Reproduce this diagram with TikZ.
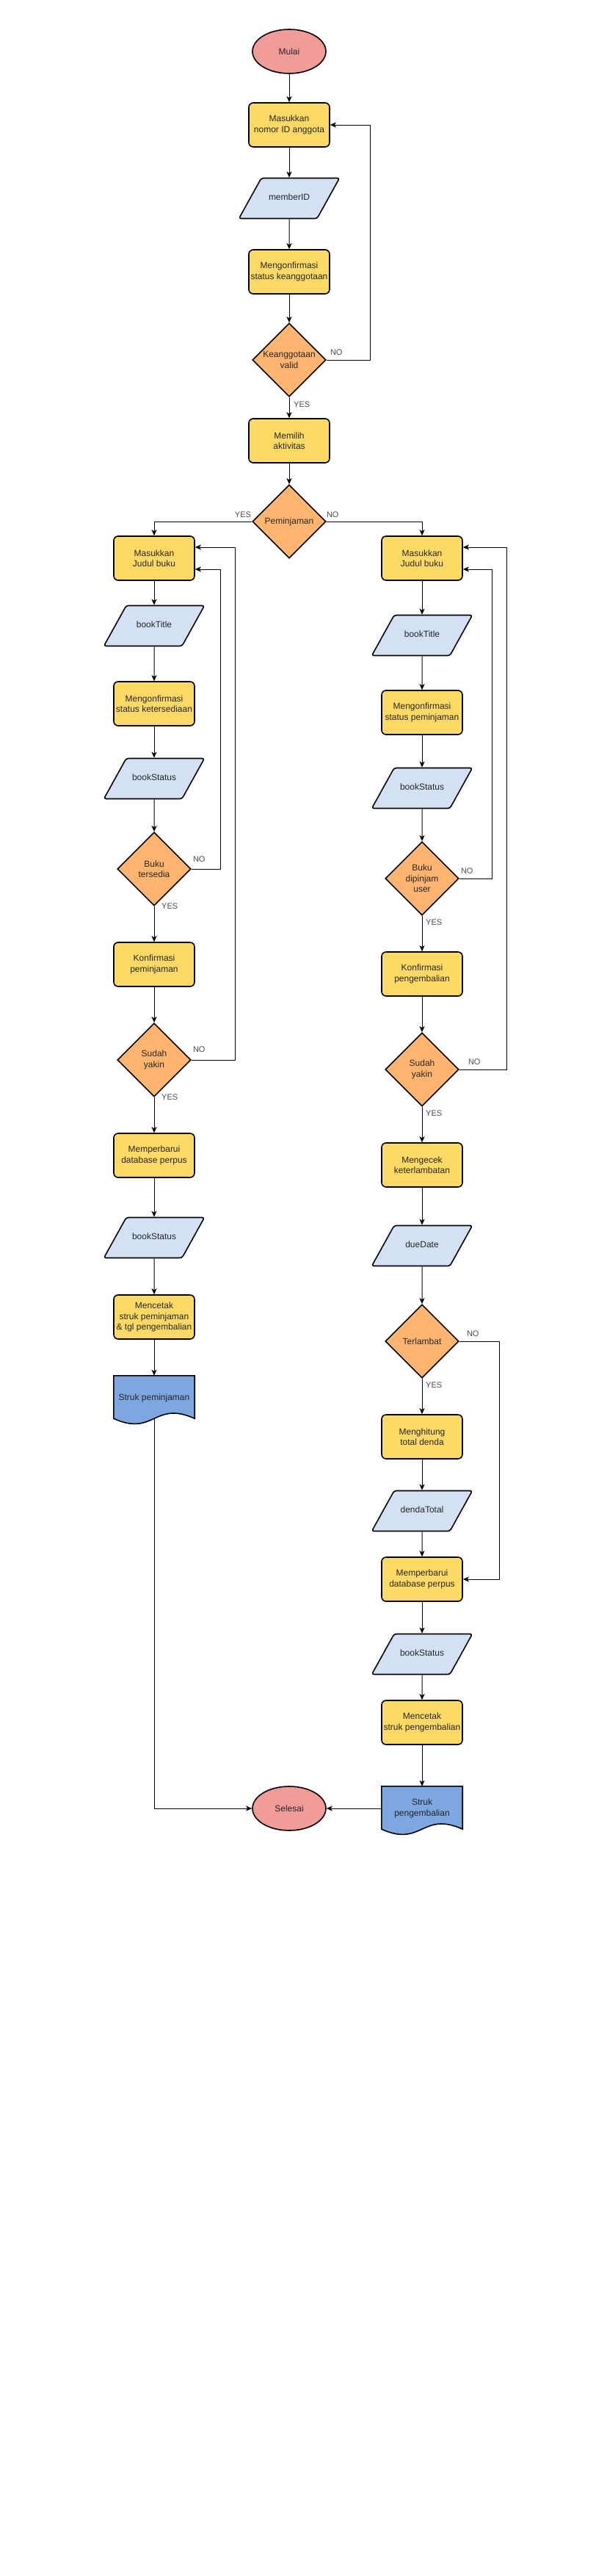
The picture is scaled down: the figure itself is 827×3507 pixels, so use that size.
\documentclass[tikz,border=0pt]{standalone}
\usepackage{fontspec}
\setmainfont{Liberation Sans}
\usetikzlibrary{arrows.meta, positioning, shapes.geometric}

\definecolor{termred}{HTML}{F19C99}
\definecolor{procyellow}{HTML}{FFD966}
\definecolor{decorange}{HTML}{FFB570}
\definecolor{ioblue}{HTML}{D4E1F5}
\definecolor{docblue}{HTML}{7EA6E0}

\pgfdeclarelayer{back}
\pgfsetlayers{back,main}

\begin{document}
\begin{tikzpicture}[x=1pt, y=1pt,
    every node/.style={font=\fontsize{12}{14.4}\selectfont, text=black!85, align=center},
    term/.style={ellipse, draw, line width=1.6pt, fill=termred, minimum width=100pt, minimum height=60pt, inner sep=0pt, on grid},
    proc/.style={rectangle, rounded corners=6pt, draw, line width=1.6pt, fill=procyellow, minimum width=110pt, minimum height=60pt, inner sep=0pt, on grid},
    io/.style={trapezium, trapezium left angle=61, trapezium right angle=119, text width=60pt, text height=8pt, text depth=3pt, inner xsep=8pt, inner ysep=22pt, rounded corners=3pt, draw, line width=1.6pt, fill=ioblue, on grid},
    dec/.style={diamond, aspect=1, draw, line width=1.6pt, fill=decorange, minimum width=100pt, minimum height=100pt, inner sep=0pt, on grid},
    doc/.style={rectangle, minimum width=110pt, minimum height=60pt, inner sep=0pt, on grid},
    docline/.style={draw, line width=1.6pt, fill=docblue},
    lbl/.style={font=\fontsize{11}{13}\selectfont, text=black!70, inner sep=0pt},
    flow/.style={draw, line width=1pt, -{Stealth[length=8pt, width=7pt, inset=2pt]}}]
                \useasboundingbox (0,0) rectangle (827,-3507);
                \node[term] (mulai) at (394,-70) {Mulai};
                \node[proc, below=100pt of mulai] (inputId) {Masukkan\\nomor ID anggota};
                \node[io, below=100pt of inputId] (memberId) {memberID};
                \node[proc, below=100pt of memberId] (cekAnggota) {Mengonfirmasi\\status keanggotaan};
                \node[dec, below=120pt of cekAnggota] (valid) {Keanggotaan\\valid};
                \node[proc, below=110pt of valid] (aktivitas) {Memilih\\aktivitas};
                \node[dec, below=110pt of aktivitas] (pinjam) {Peminjaman};

                \node[proc, below left=50pt and 184pt of pinjam] (judulL) {Masukkan\\Judul buku};
                \node[io, below=92pt of judulL] (titleL) {bookTitle};
                \node[proc, below=106pt of titleL] (sediaL) {Mengonfirmasi\\status ketersediaan};
                \node[io, below=102pt of sediaL] (statusL) {bookStatus};
                \node[dec, below=123pt of statusL] (tersedia) {Buku\\tersedia};
                \node[proc, below=130pt of tersedia] (konfL) {Konfirmasi\\peminjaman};
                \node[dec, below=130pt of konfL] (yakinL) {Sudah\\yakin};
                \node[proc, below=130pt of yakinL] (updateL) {Memperbarui\\database perpus};
                \node[io, below=112pt of updateL] (status2L) {bookStatus};
                \node[proc, below=108pt of status2L] (cetakL) {Mencetak\\struk peminjaman\\\& tgl pengembalian};
                \node[doc, below=110pt of cetakL] (strukL) {Struk peminjaman};

                \node[proc, below right=50pt and 181pt of pinjam] (judulR) {Masukkan\\Judul buku};
                \node[io, below=105pt of judulR] (titleR) {bookTitle};
                \node[proc, below=105pt of titleR] (cekPinjam) {Mengonfirmasi\\status peminjaman};
                \node[io, below=103pt of cekPinjam] (statusR) {bookStatus};
                \node[dec, below=123pt of statusR] (dipinjam) {Buku\\dipinjam\\user};
                \node[proc, below=130pt of dipinjam] (konfR) {Konfirmasi\\pengembalian};
                \node[dec, below=130pt of konfR] (yakinR) {Sudah\\yakin};
                \node[proc, below=130pt of yakinR] (cekTelat) {Mengecek\\keterlambatan};
                \node[io, below=110pt of cekTelat] (dueDate) {dueDate};
                \node[dec, below=130pt of dueDate] (terlambat) {Terlambat};
                \node[proc, below=130pt of terlambat] (denda) {Menghitung\\total denda};
                \node[io, below=101pt of denda] (dendaTotal) {dendaTotal};
                \node[proc, below=93pt of dendaTotal] (updateR) {Memperbarui\\database perpus};
                \node[io, below=102pt of updateR] (status2R) {bookStatus};
                \node[proc, below=93pt of status2R] (cetakR) {Mencetak\\struk pengembalian};
                \node[doc, below=117pt of cetakR] (strukR) {Struk\\pengembalian};
                \node[term, left=181pt of strukR] (selesai) {Selesai};

                \begin{pgfonlayer}{back}
                \draw[docline] (strukL.north west) -- (strukL.north east) -- ([yshift=2pt]strukL.south east) .. controls ([yshift=27pt]strukL.south) and ([yshift=-23pt]strukL.south) .. ([yshift=2pt]strukL.south west) -- cycle;
                \draw[docline] (strukR.north west) -- (strukR.north east) -- ([yshift=2pt]strukR.south east) .. controls ([yshift=27pt]strukR.south) and ([yshift=-23pt]strukR.south) .. ([yshift=2pt]strukR.south west) -- cycle;
                \end{pgfonlayer}

                \node[lbl, above right=6pt and 5pt of valid.east] (noValid) {NO};
                \node[lbl, below right=6pt and 6pt of valid.south] (yesValid) {YES};
                \node[lbl, above left=5pt and 1pt of pinjam.west] (yesPinjam) {YES};
                \node[lbl, above right=5pt and 0pt of pinjam.east] (noPinjam) {NO};
                \node[lbl, above right=9pt and 2pt of tersedia.east] (noSedia) {NO};
                \node[lbl, right=10pt of tersedia.south] (yesSedia) {YES};
                \node[lbl, above right=10pt and 2pt of yakinL.east] (noYakinL) {NO};
                \node[lbl, right=10pt of yakinL.south] (yesYakinL) {YES};
                \node[lbl, above right=6pt and 2pt of dipinjam.east] (noDipinjam) {NO};
                \node[lbl, below right=5pt and 5pt of dipinjam.south] (yesDipinjam) {YES};
                \node[lbl, above right=6pt and 12pt of yakinR.east] (noYakinR) {NO};
                \node[lbl, below right=5pt and 5pt of yakinR.south] (yesYakinR) {YES};
                \node[lbl, above right=6pt and 10pt of terlambat.east] (noTelat) {NO};
                \node[lbl, below right=5pt and 5pt of terlambat.south] (yesTelat) {YES};

                \draw[flow] (mulai) -- (inputId);
                \draw[flow] (inputId) -- (memberId);
                \draw[flow] (memberId) -- (cekAnggota);
                \draw[flow] (cekAnggota) -- (valid);
                \draw[flow] (valid) -- (aktivitas);
                \draw[flow] (valid.east) -- ++(60,0) |- (inputId);
                \draw[flow] (aktivitas) -- (pinjam);
                \draw[flow] (pinjam) -| (judulL);
                \draw[flow] (pinjam) -| (judulR);

                \draw[flow] (judulL) -- (titleL);
                \draw[flow] (titleL) -- (sediaL);
                \draw[flow] (sediaL) -- (statusL);
                \draw[flow] (statusL) -- (tersedia);
                \draw[flow] (tersedia) -- (konfL);
                \draw[flow] (tersedia.east) -- ++(40,0) |- ([yshift=-15pt]judulL.east);
                \draw[flow] (konfL) -- (yakinL);
                \draw[flow] (yakinL) -- (updateL);
                \draw[flow] (yakinL.east) -- ++(60,0) |- ([yshift=15pt]judulL.east);
                \draw[flow] (updateL) -- (status2L);
                \draw[flow] (status2L) -- (cetakL);
                \draw[flow] (cetakL) -- (strukL);
                \draw[flow] ([yshift=2pt]strukL.south) |- (selesai);

                \draw[flow] (judulR) -- (titleR);
                \draw[flow] (titleR) -- (cekPinjam);
                \draw[flow] (cekPinjam) -- (statusR);
                \draw[flow] (statusR) -- (dipinjam);
                \draw[flow] (dipinjam) -- (konfR);
                \draw[flow] (dipinjam.east) -- ++(45,0) |- ([yshift=-15pt]judulR.east);
                \draw[flow] (konfR) -- (yakinR);
                \draw[flow] (yakinR) -- (cekTelat);
                \draw[flow] (yakinR.east) -- ++(65,0) |- ([yshift=15pt]judulR.east);
                \draw[flow] (cekTelat) -- (dueDate);
                \draw[flow] (dueDate) -- (terlambat);
                \draw[flow] (terlambat) -- (denda);
                \draw[flow] (terlambat.east) -- ++(55,0) |- (updateR);
                \draw[flow] (denda) -- (dendaTotal);
                \draw[flow] (dendaTotal) -- (updateR);
                \draw[flow] (updateR) -- (status2R);
                \draw[flow] (status2R) -- (cetakR);
                \draw[flow] (cetakR) -- (strukR);
                \draw[flow] (strukR) -- (selesai);
            \end{tikzpicture}
\end{document}
